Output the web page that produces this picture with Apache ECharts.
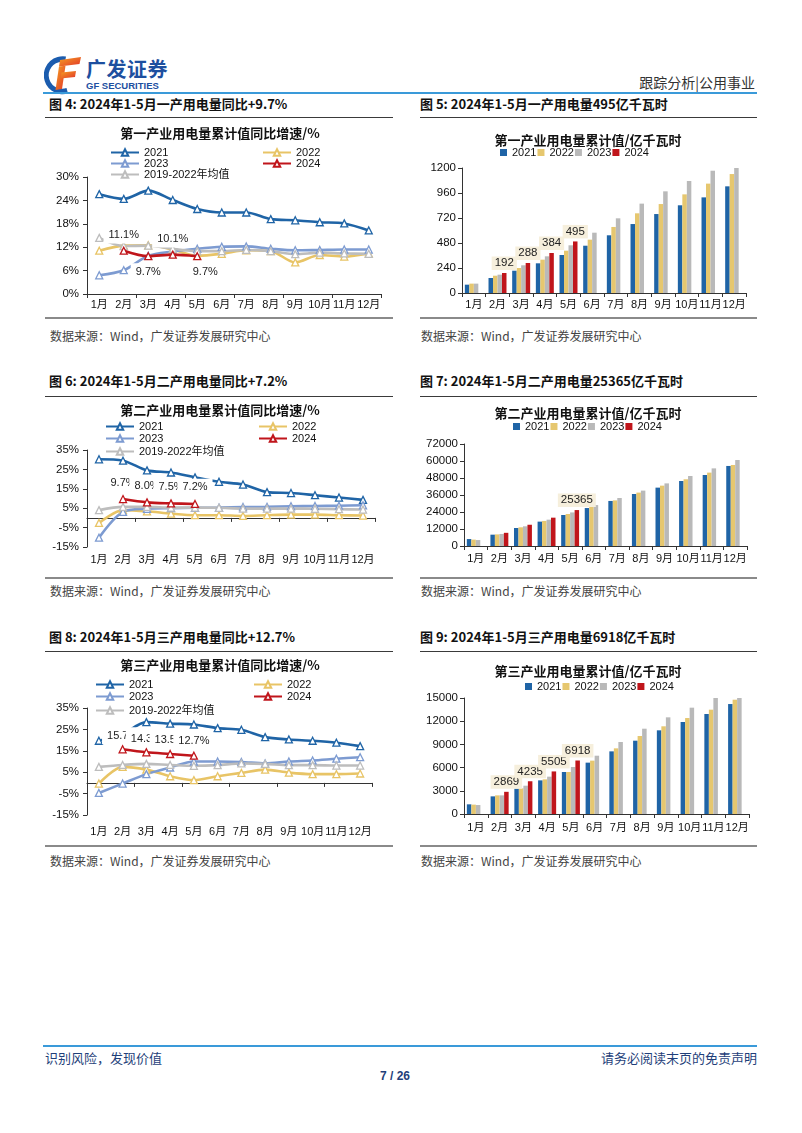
<!DOCTYPE html>
<html lang="zh-CN">
<head>
<meta charset="utf-8">
<title>跟踪分析|公用事业</title>
<script src="https://cdn.jsdelivr.net/npm/echarts@6.0.0/dist/echarts.min.js"></script>
<style>
html,body{margin:0;padding:0;background:#fff;}
#page{position:relative;width:802px;height:1133px;overflow:hidden;background:#fff;font-family:'Noto Sans CJK SC','Liberation Sans',sans-serif;}
.t{position:absolute;white-space:nowrap;line-height:16px;}
.figt{font-size:13px;font-weight:bold;color:#111;}
.src{font-size:12px;color:#444;}
.rule{position:absolute;height:1.5px;background:#3a3a3a;}
.grule{position:absolute;height:2px;background:#8a8a8a;}
.chart{position:absolute;}
</style>
</head>
<body>
<div id="page">
  <svg style="position:absolute;left:44px;top:55px" width="38" height="40" viewBox="0 0 38 40">
    <defs>
      <linearGradient id="fg" x1="0" y1="0" x2="1" y2="1">
        <stop offset="0" stop-color="#f5a021"/>
        <stop offset="1" stop-color="#e2352a"/>
      </linearGradient>
    </defs>
    <path d="M22 1.5 A19 19 0 1 0 24 38.5 L22.5 33 A13.5 13.5 0 1 1 21 7 Z" fill="#1b5cae"/>
    <path d="M16 5 L37 2 L35.5 9 L15 11.5 Z" fill="url(#fg)"/>
    <path d="M15 11.5 L21.5 10.8 L18 34 L11.5 35 Z" fill="url(#fg)"/>
    <path d="M17.5 17.5 L32 16 L31 22 L16.7 23.5 Z" fill="url(#fg)"/>
  </svg>
  <div class="t" style="left:86px;top:57px;font-size:20px;line-height:24px;font-weight:bold;color:#1d4f9f;letter-spacing:0.5px;">广发证券</div>
  <div class="t" style="left:86px;top:81px;font-size:9.5px;line-height:10px;font-weight:bold;color:#1d4f9f;font-family:'Liberation Sans',sans-serif;">GF SECURITIES</div>
  <div class="t" style="right:47px;top:74px;font-size:14px;color:#333;">跟踪分析|公用事业</div>
  <div style="position:absolute;left:43px;top:92px;width:714px;height:2px;background:#3a9ad9;"></div>

  <div class="t figt" style="left:49px;top:96px;">图 4: 2024年1-5月一产用电量同比+9.7%</div>
  <div class="t figt" style="left:420px;top:96px;">图 5: 2024年1-5月一产用电量495亿千瓦时</div>
  <div class="rule" style="left:45px;top:116.5px;width:348px;"></div>
  <div class="rule" style="left:420px;top:116.5px;width:337px;"></div>
  <div class="chart" id="c4" style="left:45px;top:118px;width:350px;height:198px;"></div>
  <div class="chart" id="c5" style="left:418px;top:118px;width:340px;height:198px;"></div>
  <div class="grule" style="left:45px;top:317px;width:348px;"></div>
  <div class="grule" style="left:420px;top:317px;width:337px;"></div>
  <div class="t src" style="left:50px;top:328px;">数据来源：Wind，广发证券发展研究中心</div>
  <div class="t src" style="left:421px;top:328px;">数据来源：Wind，广发证券发展研究中心</div>

  <div class="t figt" style="left:49px;top:373px;">图 6: 2024年1-5月二产用电量同比+7.2%</div>
  <div class="t figt" style="left:420px;top:373px;">图 7: 2024年1-5月二产用电量25365亿千瓦时</div>
  <div class="rule" style="left:45px;top:395.5px;width:348px;"></div>
  <div class="rule" style="left:420px;top:395.5px;width:337px;"></div>
  <div class="chart" id="c6" style="left:45px;top:397px;width:350px;height:178px;"></div>
  <div class="chart" id="c7" style="left:418px;top:397px;width:340px;height:178px;"></div>
  <div class="grule" style="left:45px;top:576.5px;width:348px;"></div>
  <div class="grule" style="left:420px;top:576.5px;width:337px;"></div>
  <div class="t src" style="left:50px;top:583px;">数据来源：Wind，广发证券发展研究中心</div>
  <div class="t src" style="left:421px;top:583px;">数据来源：Wind，广发证券发展研究中心</div>

  <div class="t figt" style="left:49px;top:629px;">图 8: 2024年1-5月三产用电量同比+12.7%</div>
  <div class="t figt" style="left:420px;top:629px;">图 9: 2024年1-5月三产用电量6918亿千瓦时</div>
  <div class="rule" style="left:45px;top:650.5px;width:348px;"></div>
  <div class="rule" style="left:420px;top:650.5px;width:337px;"></div>
  <div class="chart" id="c8" style="left:45px;top:652px;width:350px;height:192px;"></div>
  <div class="chart" id="c9" style="left:418px;top:652px;width:340px;height:192px;"></div>
  <div class="grule" style="left:45px;top:845px;width:348px;"></div>
  <div class="grule" style="left:420px;top:845px;width:337px;"></div>
  <div class="t src" style="left:50px;top:853px;">数据来源：Wind，广发证券发展研究中心</div>
  <div class="t src" style="left:421px;top:853px;">数据来源：Wind，广发证券发展研究中心</div>

  <div style="position:absolute;left:43px;top:1045px;width:714px;height:2px;background:#3a9ad9;"></div>
  <div class="t" style="left:45px;top:1050px;font-size:13px;color:#1f3f7a;">识别风险，发现价值</div>
  <div class="t" style="right:45px;top:1050px;font-size:13px;color:#1f3f7a;">请务必阅读末页的免责声明</div>
  <div class="t" style="left:0;width:790px;text-align:center;top:1068px;font-size:12px;font-weight:bold;color:#1f3f7a;font-family:'Liberation Sans',sans-serif;">7 / 26</div>
</div>
<script>
// ---------------- data ----------------
const months = ['1月','2月','3月','4月','5月','6月','7月','8月','9月','10月','11月','12月'];
const avgName = '2019-2022年均值';

// 图4 第一产业用电量累计值同比增速 (%)
const p1Yoy2021 = [25.6,24.4,26.5,24.1,21.8,20.9,20.9,19.2,18.9,18.4,18.1,16.3];
const p1Yoy2022 = [11.1,12.4,12.5,11.4,9.8,10.3,11.2,11.0,8.1,10.0,9.6,10.4];
const p1Yoy2023 = [4.8,6.1,9.8,10.9,11.6,12.1,12.2,11.6,11.2,11.3,11.4,11.4];
const p1Yoy2024 = [null,11.1,9.7,10.1,9.7,null,null,null,null,null,null,null];
const p1YoyAvg  = [14.4,12.3,12.4,11.6,11.0,11.0,11.3,11.0,10.2,10.6,10.4,10.3];

// 图5 第一产业用电量累计值 (亿千瓦时)
const p1Cum2021 = [80,144,214,285,365,454,554,662,758,842,918,1024];
const p1Cum2022 = [90,166,240,320,406,512,634,765,854,947,1050,1142];
const p1Cum2023 = [90,176,266,352,458,579,717,858,976,1075,1174,1200];
const p1Cum2024 = [null,192,288,384,495,null,null,null,null,null,null,null];

// 图6 第二产业用电量累计值同比增速 (%)
const p2Yoy2021 = [30.2,29.5,24.5,23.4,20.9,18.6,17.2,13.3,12.8,11.7,10.5,9.3];
const p2Yoy2022 = [-2.6,4.0,3.4,2.2,1.4,1.4,1.0,1.4,1.7,1.7,1.4,1.2];
const p2Yoy2023 = [-10.2,3.1,4.7,5.0,5.2,5.3,5.6,5.7,6.0,6.1,6.3,6.5];
const p2Yoy2024 = [null,9.7,8.0,7.5,7.2,null,null,null,null,null,null,null];
const p2YoyAvg  = [4.0,5.7,5.7,5.3,5.3,5.2,4.8,4.8,4.8,4.7,4.5,4.3];

// 图7 第二产业用电量累计值 (亿千瓦时)
const p2Cum2021 = [4900,8000,12700,17200,21900,26800,31800,36700,41200,45900,50100,56500];
const p2Cum2022 = [4500,8200,13200,17700,22600,27800,32200,37700,42600,47100,51800,57200];
const p2Cum2023 = [4200,8500,13900,18600,23700,28900,33900,39100,44200,49400,54800,60700];
const p2Cum2024 = [null,9300,15000,20000,25365,null,null,null,null,null,null,null];

// 图8 第三产业用电量累计值同比增速 (%)
const p3Yoy2021 = [19.7,22.8,28.4,27.7,27.3,25.6,24.8,21.4,20.3,19.7,18.8,17.2];
const p3Yoy2022 = [-0.3,7.5,6.2,3.1,1.3,3.1,4.7,6.2,4.8,4.1,4.1,4.4];
const p3Yoy2023 = [-4.7,-0.3,4.1,7.2,10.0,10.0,9.8,9.1,10.0,10.5,11.3,12.0];
const p3Yoy2024 = [null,15.7,14.3,13.5,12.7,null,null,null,null,null,null,null];
const p3YoyAvg  = [7.5,8.4,8.9,8.4,8.0,8.3,9.1,8.9,8.3,8.3,8.1,8.1];

// 图9 第三产业用电量累计值 (亿千瓦时)
const p3Cum2021 = [1250,2280,3280,4350,5430,6640,8100,9480,10820,11900,12930,14220];
const p3Cum2022 = [1210,2410,3320,4480,5430,6900,8490,10090,11340,12410,13490,14780];
const p3Cum2023 = [1160,2410,3660,4830,6080,7540,9310,11030,12500,13750,15000,15000];
const p3Cum2024 = [null,2869,4235,5505,6918,null,null,null,null,null,null,null];

// ---------------- styles ----------------
const FONT = "'Liberation Sans','Noto Sans CJK SC',sans-serif";
const CJK = "'Noto Sans CJK SC',sans-serif";
const COL = {y21:'#1f64a6', y22:'#e8c466', y23:'#7d9bd1', y24:'#c0151b', avg:'#bdbdbd'};
const BARCOL = {y21:'#1f64a6', y22:'#e6c76f', y23:'#b9b9b9', y24:'#c0151b'};
const AX = '#333';

function titleOpt(text, top){
  return {text, left:'center', top, padding:0,
    textStyle:{fontSize:13, fontWeight:'bold', color:'#111', fontFamily:CJK}};
}
function yAxisOpt(c, pct){
  return {type:'value', min:c.min, max:c.max, interval:c.interval,
    axisLine:{show:true, lineStyle:{color:AX, width:1}},
    axisTick:{show:true, length:4, lineStyle:{color:AX}},
    splitLine:{show:false},
    axisLabel:{margin:c.ym, fontSize:11.5, color:'#111', fontFamily:FONT,
      formatter: v => String(v) + (pct ? '%' : '')}};
}

function lineOption(c){
  const lc = {padding:0, itemWidth:28, itemHeight:8, selectedMode:false,
    textStyle:{fontSize:11, color:'#111', fontFamily:FONT}};
  const L = c.legend;
  const mk = (name, data, color, z) => ({
    name, type:'line', data, z, smooth:0.3, symbol:'triangle', symbolSize:7,
    lineStyle:{color, width:2.6},
    itemStyle:{color:'#fff', borderColor:color, borderWidth:1.3},
    emphasis:{disabled:true}
  });
  const s24 = mk('2024', c.d24.map((v,i)=> v==null ? null :
      {value:v, label:Object.assign({show:true}, c.labelPos[i]||{})}), COL.y24, 4);
  s24.label = {show:false, formatter: p => Number(p.value).toFixed(1)+'%',
    fontSize:11, color:'#222', fontFamily:FONT, backgroundColor:'#fff', padding:[3,5]};
  return {
    animation:false,
    title: titleOpt(c.title, c.titleTop),
    legend:[
      Object.assign({data:['2021'], left:L.x1, top:L.r1}, lc),
      Object.assign({data:['2022'], left:L.x2, top:L.r1}, lc),
      Object.assign({data:['2023'], left:L.x1, top:L.r2}, lc),
      Object.assign({data:['2024'], left:L.x2, top:L.r2}, lc),
      Object.assign({data:[avgName], left:L.x1, top:L.r3}, lc)
    ],
    grid: c.grid,
    xAxis:[
      {type:'category', data:months, position:'bottom',
        axisLine:{show:true, onZero:true, lineStyle:{color:AX, width:1}},
        axisTick:{show:true, length:4, lineStyle:{color:AX}},
        axisLabel:{show:false}},
      {type:'category', data:months, position:'bottom',
        axisLine:{show:false, onZero:false}, axisTick:{show:false},
        axisLabel:{interval:0, margin:c.xm, fontSize:11, color:'#111', fontFamily:FONT}}
    ],
    yAxis: yAxisOpt(c, true),
    series:[
      mk('2021', c.d21, COL.y21, 2),
      mk('2022', c.d22, COL.y22, 2),
      mk('2023', c.d23, COL.y23, 2),
      mk(avgName, c.davg, COL.avg, 2),
      s24
    ]
  };
}

function barOption(c){
  const mk = (name, data, color) => ({name, type:'bar', data, barGap:'0%', barCategoryGap:'24%',
    itemStyle:{color}, emphasis:{disabled:true}});
  const s24 = mk('2024', c.d24.map((v,i)=> v==null ? null :
      {value:v, label:{show: c.labelIdx.indexOf(i) >= 0}}), BARCOL.y24);
  s24.label = {show:false, position:'top', distance:3, fontSize:11.5, color:'#222', fontFamily:FONT,
    backgroundColor:'#f6efdc', padding:[1,3]};
  return {
    animation:false,
    title: titleOpt(c.title, c.titleTop),
    legend:{data:['2021','2022','2023','2024'], left:c.legendLeft, top:c.legendTop, padding:0,
      icon:'rect', itemWidth:7, itemHeight:7, itemGap:1, selectedMode:false,
      textStyle:{fontSize:11, color:'#111', fontFamily:FONT}},
    grid: c.grid,
    xAxis:{type:'category', data:months,
      axisLine:{show:true, lineStyle:{color:AX, width:1}},
      axisTick:{show:true, length:4, lineStyle:{color:AX}},
      axisLabel:{interval:0, margin:c.xm, fontSize:11, color:'#111', fontFamily:FONT}},
    yAxis: yAxisOpt(c, false),
    series:[
      mk('2021', c.d21, BARCOL.y21),
      mk('2022', c.d22, BARCOL.y22),
      mk('2023', c.d23, BARCOL.y23),
      s24
    ]
  };
}

function render(id, opt){
  const ch = echarts.init(document.getElementById(id), null, {renderer:'canvas'});
  ch.setOption(opt);
}

render('c4', lineOption({
  title:'第一产业用电量累计值同比增速/%', titleTop:9,
  legend:{x1:65, x2:217, r1:29, r2:40, r3:51},
  grid:{left:42, right:14, top:59, bottom:22},
  min:0, max:30, interval:6, ym:8, xm:5,
  d21:p1Yoy2021, d22:p1Yoy2022, d23:p1Yoy2023, d24:p1Yoy2024, davg:p1YoyAvg,
  labelPos:[null,{position:'top',distance:3},{position:'bottom',distance:3},{position:'top',distance:3},{position:'bottom',distance:3,offset:[8,0]}]
}));

render('c5', barOption({
  title:'第一产业用电量累计值/亿千瓦时', titleTop:16,
  legendLeft:82, legendTop:29,
  grid:{left:44, right:12, top:50, bottom:23},
  min:0, max:1200, interval:240, ym:6, xm:6,
  d21:p1Cum2021, d22:p1Cum2022, d23:p1Cum2023, d24:p1Cum2024,
  labelIdx:[1,2,3,4]
}));

render('c6', lineOption({
  title:'第二产业用电量累计值同比增速/%', titleTop:7,
  legend:{x1:60, x2:213, r1:24, r2:36, r3:49},
  grid:{left:42, right:20, top:53, bottom:28},
  min:-15, max:35, interval:10, ym:8, xm:7,
  d21:p2Yoy2021, d22:p2Yoy2022, d23:p2Yoy2023, d24:p2Yoy2024, davg:p2YoyAvg,
  labelPos:[null,{position:'top',distance:3},{position:'top',distance:4},{position:'top',distance:4},{position:'top',distance:4}]
}));

render('c7', barOption({
  title:'第二产业用电量累计值/亿千瓦时', titleTop:10,
  legendLeft:95, legendTop:24,
  grid:{left:46, right:11, top:47, bottom:29},
  min:0, max:72000, interval:12000, ym:6, xm:7,
  d21:p2Cum2021, d22:p2Cum2022, d23:p2Cum2023, d24:p2Cum2024,
  labelIdx:[4]
}));

render('c8', lineOption({
  title:'第三产业用电量累计值同比增速/%', titleTop:7,
  legend:{x1:50, x2:208, r1:27, r2:39, r3:53},
  grid:{left:42, right:23, top:56, bottom:29},
  min:-15, max:35, interval:10, ym:8, xm:11,
  d21:p3Yoy2021, d22:p3Yoy2022, d23:p3Yoy2023, d24:p3Yoy2024, davg:p3YoyAvg,
  labelPos:[null,{position:'top',distance:1},{position:'top',distance:1},{position:'top',distance:1},{position:'top',distance:2}]
}));

render('c9', barOption({
  title:'第三产业用电量累计值/亿千瓦时', titleTop:13,
  legendLeft:107, legendTop:29,
  grid:{left:46, right:9, top:46, bottom:30},
  min:0, max:15000, interval:3000, ym:6, xm:8,
  d21:p3Cum2021, d22:p3Cum2022, d23:p3Cum2023, d24:p3Cum2024,
  labelIdx:[1,2,3,4]
}));
</script>
</body>
</html>
